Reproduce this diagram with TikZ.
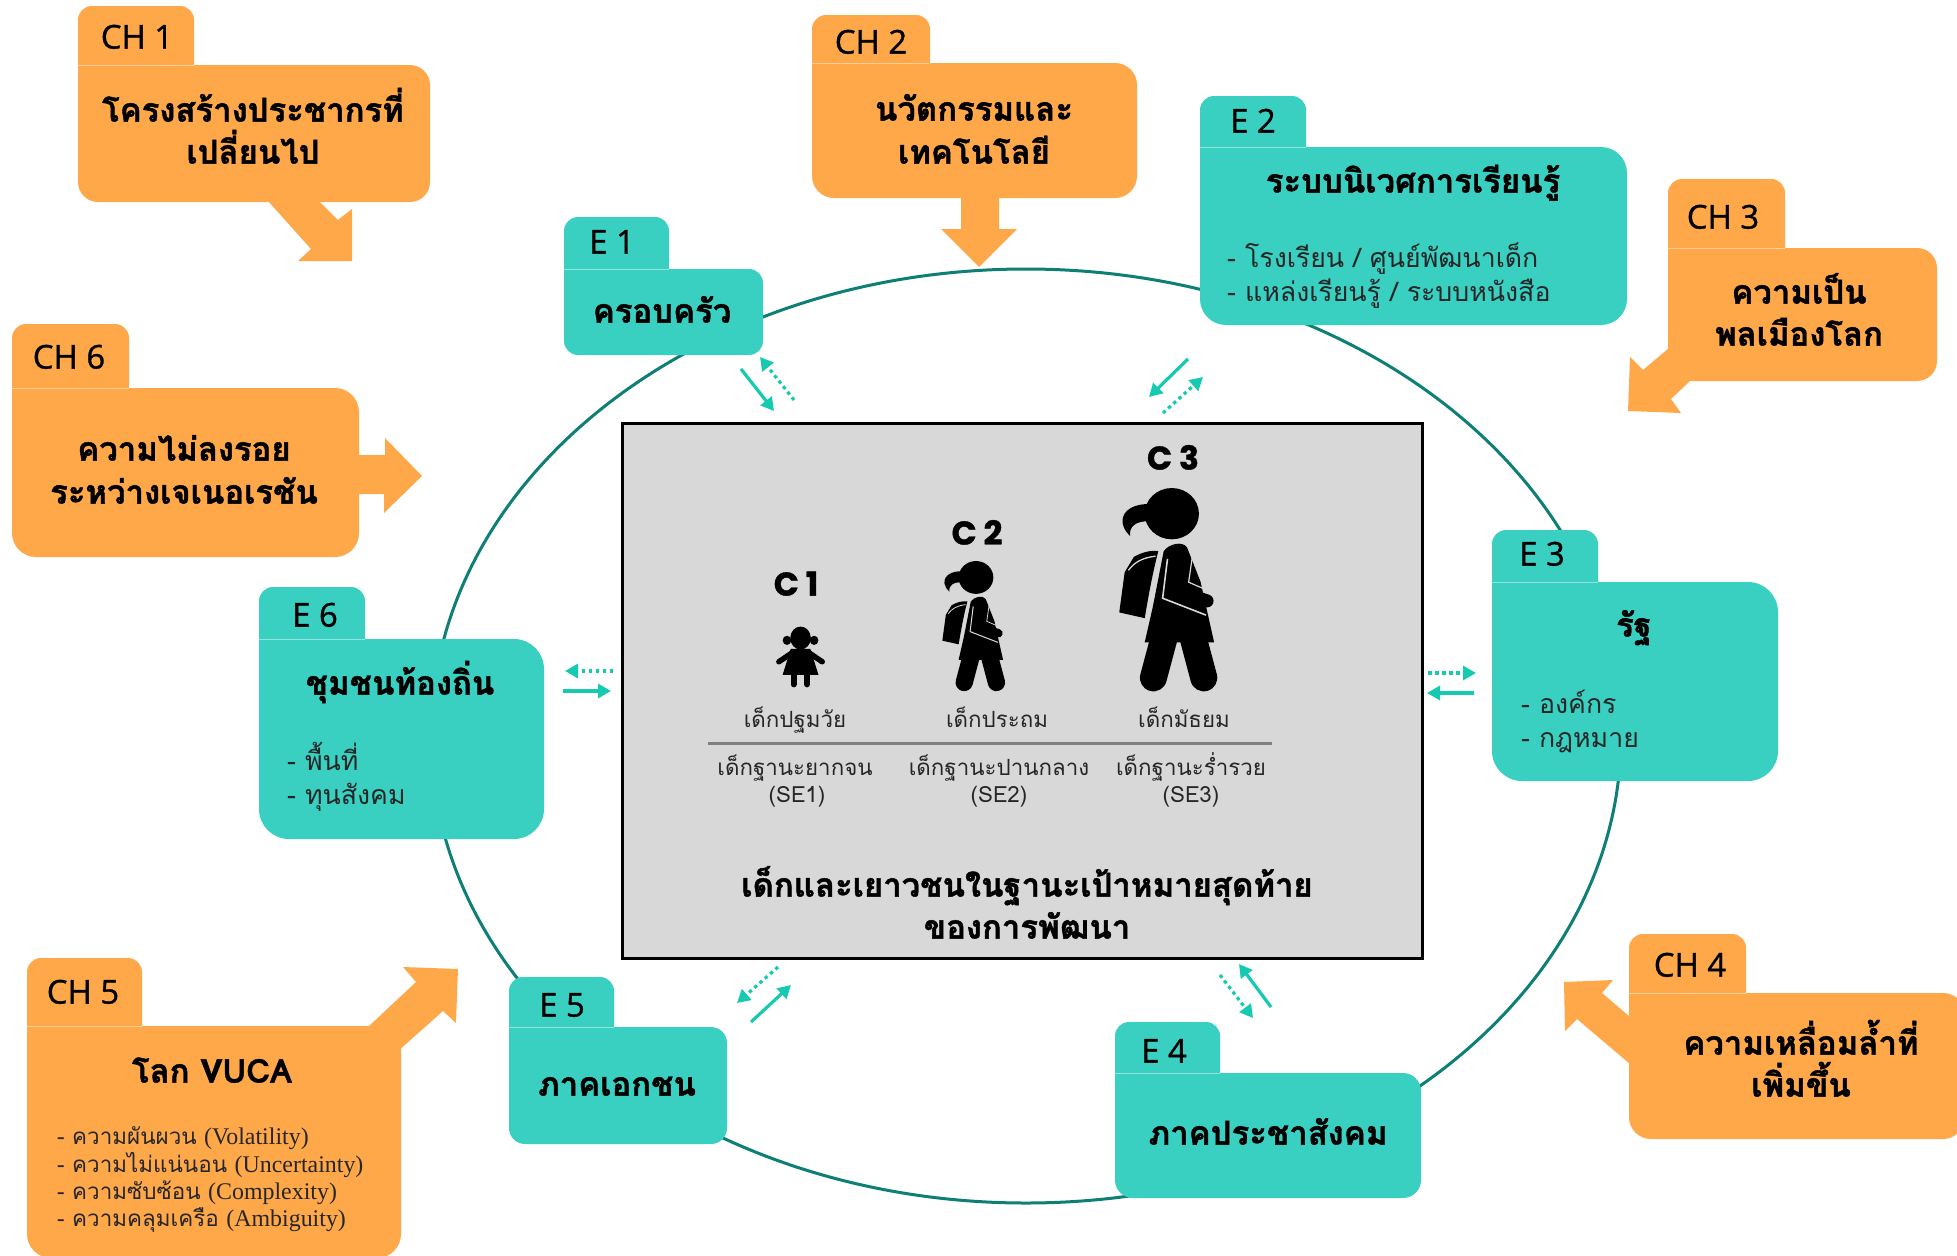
\documentclass[tikz,border=0pt]{standalone}
\usepackage{fontspec}
\usetikzlibrary{arrows.meta}
\setmainfont[Script=Thai]{Loma}
\newfontfamily\headfont[Script=Thai,BoldFeatures={FakeBold=1.3}]{Loma}
\newfontfamily\tabfont[FakeBold=1]{Open Sans}
\newfontfamily\kidfont[BoldFeatures={FakeBold=1.2}]{Poppins}
\newfontfamily\serifpart{Liberation Serif}
\definecolor{orangebox}{HTML}{FEA84A}
\definecolor{tealbox}{HTML}{39D0C2}
\definecolor{tealarrow}{HTML}{16C9B1}
\definecolor{ringcol}{HTML}{0E7F74}
\definecolor{panel}{HTML}{D8D8D8}
\newcommand{\folder}[8]{%
  \fill[#1] (#2,#5) [rounded corners=14bp] -- (#2,#3) -- (#4,#3) [sharp corners] -- (#4,#5)
     [rounded corners=#8bp] -- (#6,#5) -- (#6,#7) -- (#2,#7) -- cycle;
  \draw[white,opacity=.45,line width=1bp] (#2,#5) -- (#4,#5);}
\newcommand{\linkarrow}[6]{%
  \coordinate (#1a) at (#3,#4); \coordinate (#1b) at (#5,#6);
  \draw[#2] (#1a) -- (#1b);}
\newcommand{\girl}[1]{%
  \fill (1055,297) ellipse [x radius=50,y radius=67];
  \fill (1015,272) .. controls (990,270) and (962,285) .. (964,320) .. controls (966,335) and (970,345) .. (978,355) .. controls (976,335) and (985,312) .. (1020,318) -- cycle;
  \fill (985,410) .. controls (1000,398) and (1015,392) .. (1030,395) .. controls (1020,450) and (1012,510) .. (1005,570) -- (958,555) -- (968,450) -- cycle;
  \draw[panel,line width=#1*1.3bp] (975,445) .. controls (985,425) and (1000,412) .. (1025,408);
  \fill (1040,395) .. controls (1050,375) and (1075,368) .. (1083,385) -- (1108,475) -- (1133,633) -- (1005,633) -- (1020,540) -- cycle;
  \draw[panel,line width=#1*1.6bp] (1047,415) -- (1038,518) -- (1118,562);
  \draw[panel,line width=#1*1.2bp] (1093,408) -- (1086,476) -- (1112,492);
  \draw[line cap=round,line width=#1*13bp] (1062,497) -- (1120,525);
  \draw[line cap=round,line width=#1*27bp] (1040,625) -- (1021,726);
  \draw[line cap=round,line width=#1*27bp] (1095,625) -- (1114,726);}
\tikzset{
  x=1bp,y=-1bp,
  orangefill/.style={fill=orangebox},
  tealfill/.style={fill=tealbox},
  tablabel/.style={anchor=mid,yshift=-8bp,font=\tabfont\fontsize{33}{38}\selectfont,text=black,inner sep=0pt},
  headtext/.style={anchor=mid,yshift=-8bp,font=\headfont\fontsize{33}{40}\selectfont\bfseries,text=black,inner sep=0pt},
  listtext/.style={anchor=mid west,yshift=-5bp,font=\fontsize{26.8}{32}\selectfont,text=black!85,inner sep=0pt},
  vucatext/.style={anchor=mid west,yshift=-6bp,font=\fontsize{22.5}{28}\selectfont,text=black!85,inner sep=0pt},
  kidlabel/.style={anchor=mid,yshift=-8bp,font=\kidfont\bfseries\fontsize{33}{40}\selectfont,text=black,inner sep=0pt},
  kidtext/.style={anchor=mid,yshift=-5.5bp,font=\fontsize{22.4}{28}\selectfont,text=black!85,inner sep=0pt},
  solidlink/.style={draw=tealarrow,line width=3.2bp,-{Triangle[length=13bp,width=14bp]}},
  dotlink/.style={draw=tealarrow,line width=3.2bp,dash pattern=on 3.5bp off 3.5bp,-{Triangle[length=13bp,width=14bp]}},
}
\newcommand{\lat}[1]{{\serifpart\fontsize{24}{28}\selectfont #1}}
\begin{document}
\begin{tikzpicture}
\useasboundingbox (0,0) rectangle (1957,1255);
\clip (0,0) rectangle (1957,1255);
\fill[white] (0,0) rectangle (1957,1255);

% ring
\draw[ringcol,line width=3bp] (1026,736) ellipse [x radius=595,y radius=467];

% centre panel
\node[draw=black,fill=panel,line width=3bp,minimum width=800bp,minimum height=535bp,inner sep=0pt] (panelbox) at (1022,690.5) {};
\draw[black!50,line width=3bp] (708,743) coordinate (rulea) -- (1272,743) coordinate (ruleb);

% callout arrows
\fill[orangebox] (268,201) -- (311,249) -- (298,261) -- (352,261) -- (352,209) -- (338,220) -- (319,201) -- cycle;
\fill[orangebox] (961,197) -- (961,229) -- (941,229) -- (979,267) -- (1017,229) -- (999,229) -- (999,197) -- cycle;
\fill[orangebox] (1669,348) -- (1643,370) -- (1630,357) -- (1628,411) -- (1681,413) -- (1671,399) -- (1691,380) -- cycle;
\fill[orangebox] (1630,1017) -- (1602,993) -- (1613,980) -- (1564,982) -- (1565,1031) -- (1577,1019) -- (1630,1064) -- cycle;
\fill[orangebox] (368,1027) -- (416,982) -- (403,967) -- (458,969) -- (456,1023) -- (443,1011) -- (398,1051) -- cycle;
\fill[orangebox] (358,455) -- (385,455) -- (385,438) -- (422,476) -- (384,513) -- (384,494) -- (358,494) -- cycle;

% folders
\folder{orangebox}{78}{6}{194}{65}{430}{202}{20}
\folder{orangebox}{812}{15}{930}{63}{1137}{198}{22}
\folder{orangebox}{1668}{179}{1785}{248}{1937}{381}{20}
\folder{orangebox}{1629}{934}{1746}{993}{1965}{1139}{22}
\folder{orangebox}{27}{958}{142}{1026}{401}{1258}{24}
\folder{orangebox}{12}{324}{129}{388}{359}{557}{24}
\folder{tealbox}{564}{217}{669}{269}{763}{355}{14}
\folder{tealbox}{1200}{96}{1306}{147}{1627}{325}{26}
\folder{tealbox}{1492}{530}{1598}{582}{1778}{781}{30}
\folder{tealbox}{1115}{1022}{1220}{1073}{1421}{1198}{18}
\folder{tealbox}{509}{977}{614}{1027}{727}{1144}{16}
\folder{tealbox}{259}{587}{365}{639}{544}{839}{30}

% link arrows
\linkarrow{ea}{solidlink}{741}{369}{774}{411}
\linkarrow{eb}{dotlink}{794}{400}{760}{357}
\linkarrow{ec}{solidlink}{1188}{359}{1149}{397}
\linkarrow{ed}{dotlink}{1163}{413}{1203}{377}
\linkarrow{ee}{dotlink}{1428}{673}{1476}{673}
\linkarrow{ef}{solidlink}{1474}{693}{1427}{693}
\linkarrow{eg}{solidlink}{1271}{1007}{1239}{964}
\linkarrow{eh}{dotlink}{1220}{975}{1253}{1018}
\linkarrow{ei}{dotlink}{778}{967}{737}{1003}
\linkarrow{ej}{solidlink}{751}{1022}{791}{985}
\linkarrow{ek}{dotlink}{613}{671}{565}{671}
\linkarrow{el}{solidlink}{563}{691}{611}{691}

% orange texts
\node[tablabel] (ch1) at (137,38) {CH 1};
\node[headtext] (ch1a) at (253,111) {โครงสร้างประชากรที่};
\node[headtext] (ch1b) at (253,153) {เปลี่ยนไป};
\node[tablabel] (ch2) at (871,43) {CH 2};
\node[headtext] (ch2a) at (974,110) {นวัตกรรมและ};
\node[headtext] (ch2b) at (974,153) {เทคโนโลยี};
\node[tablabel] (ch3) at (1723,218) {CH 3};
\node[headtext] (ch3a) at (1799,293) {ความเป็น};
\node[headtext] (ch3b) at (1799,335) {พลเมืองโลก};
\node[tablabel] (ch4) at (1690,966) {CH 4};
\node[headtext] (ch4a) at (1801,1044) {ความเหลื่อมล้ำที่};
\node[headtext] (ch4b) at (1801,1086) {เพิ่มขึ้น};
\node[tablabel] (ch5) at (83,993) {CH 5};
\node[headtext] (ch5a) at (212,1072) {โลก VUCA};
\node[vucatext] (ch5b) at (57,1136) {- ความผันผวน \lat{(Volatility)}};
\node[vucatext] (ch5c) at (57,1164) {- ความไม่แน่นอน \lat{(Uncertainty)}};
\node[vucatext] (ch5d) at (57,1191) {- ความซับซ้อน \lat{(Complexity)}};
\node[vucatext] (ch5e) at (57,1218) {- ความคลุมเครือ \lat{(Ambiguity)}};
\node[tablabel] (ch6) at (69,358) {CH 6};
\node[headtext] (ch6a) at (184,450) {ความไม่ลงรอย};
\node[headtext] (ch6b) at (184,493) {ระหว่างเจเนอเรชัน};

% teal texts
\node[tablabel] (e1) at (612,243) {E 1};
\node[headtext] (e1a) at (662,312) {ครอบครัว};
\node[tablabel] (e2) at (1253,122) {E 2};
\node[headtext] (e2a) at (1413,182) {ระบบนิเวศการเรียนรู้};
\node[listtext] (e2b) at (1227,260) {- โรงเรียน / ศูนย์พัฒนาเด็ก};
\node[listtext] (e2c) at (1227,294) {- แหล่งเรียนรู้ / ระบบหนังสือ};
\node[tablabel] (e3) at (1542,555) {E 3};
\node[headtext] (e3a) at (1634,626) {รัฐ};
\node[listtext] (e3b) at (1521,706) {- องค์กร};
\node[listtext] (e3c) at (1521,740) {- กฎหมาย};
\node[tablabel] (e4) at (1164,1052) {E 4};
\node[headtext] (e4a) at (1268,1134) {ภาคประชาสังคม};
\node[tablabel] (e5) at (562,1006) {E 5};
\node[headtext] (e5a) at (617,1085) {ภาคเอกชน};
\node[tablabel] (e6) at (315,616) {E 6};
\node[headtext] (e6a) at (400,684) {ชุมชนท้องถิ่น};
\node[listtext] (e6b) at (287,763) {- พื้นที่};
\node[listtext] (e6c) at (287,797) {- ทุนสังคม};

% panel texts
\node[kidlabel] (c3) at (1173,459) {C 3};
\node[kidlabel] (c2) at (977,534) {C 2};
\node[kidlabel] (c1) at (796,585) {C 1};
\node[kidtext] (k1) at (795,719) {เด็กปฐมวัย};
\node[kidtext] (k2) at (997,719) {เด็กประถม};
\node[kidtext] (k3) at (1184,719) {เด็กมัธยม};
\node[kidtext] (s1) at (795,767) {เด็กฐานะยากจน};
\node[kidtext] (s1b) at (797,794) {(SE1)};
\node[kidtext] (s2) at (999,767) {เด็กฐานะปานกลาง};
\node[kidtext] (s2b) at (999,794) {(SE2)};
\node[kidtext] (s3) at (1191,767) {เด็กฐานะร่ำรวย};
\node[kidtext] (s3b) at (1191,794) {(SE3)};
\node[headtext] (goala) at (1027,886) {เด็กและเยาวชนในฐานะเป้าหมายสุดท้าย};
\node[headtext] (goalb) at (1027,928) {ของการพัฒนา};

% children, in coordinates of a zoomed panel
\begin{scope}[shift={(600,400)},x=0.542bp,y=-0.3827bp]
  \girl{1}
  \begin{scope}[shift={(18.48,273.6)},scale=.64]
    \girl{.64}
  \end{scope}
  \fill (370,622) ellipse [x radius=19,y radius=30];
  \fill (345,628) ellipse [x radius=8,y radius=12];
  \fill (395,628) ellipse [x radius=8,y radius=12];
  \fill (352,650) -- (388,650) -- (403,718) -- (337,718) -- cycle;
  \draw[line cap=round,line width=5.5bp] (355,660) -- (330,684);
  \draw[line cap=round,line width=5.5bp] (385,660) -- (410,684);
  \draw[line cap=round,line width=6bp] (357,715) -- (357,743);
  \draw[line cap=round,line width=6bp] (382,715) -- (382,743);
\end{scope}
\end{tikzpicture}
\end{document}
